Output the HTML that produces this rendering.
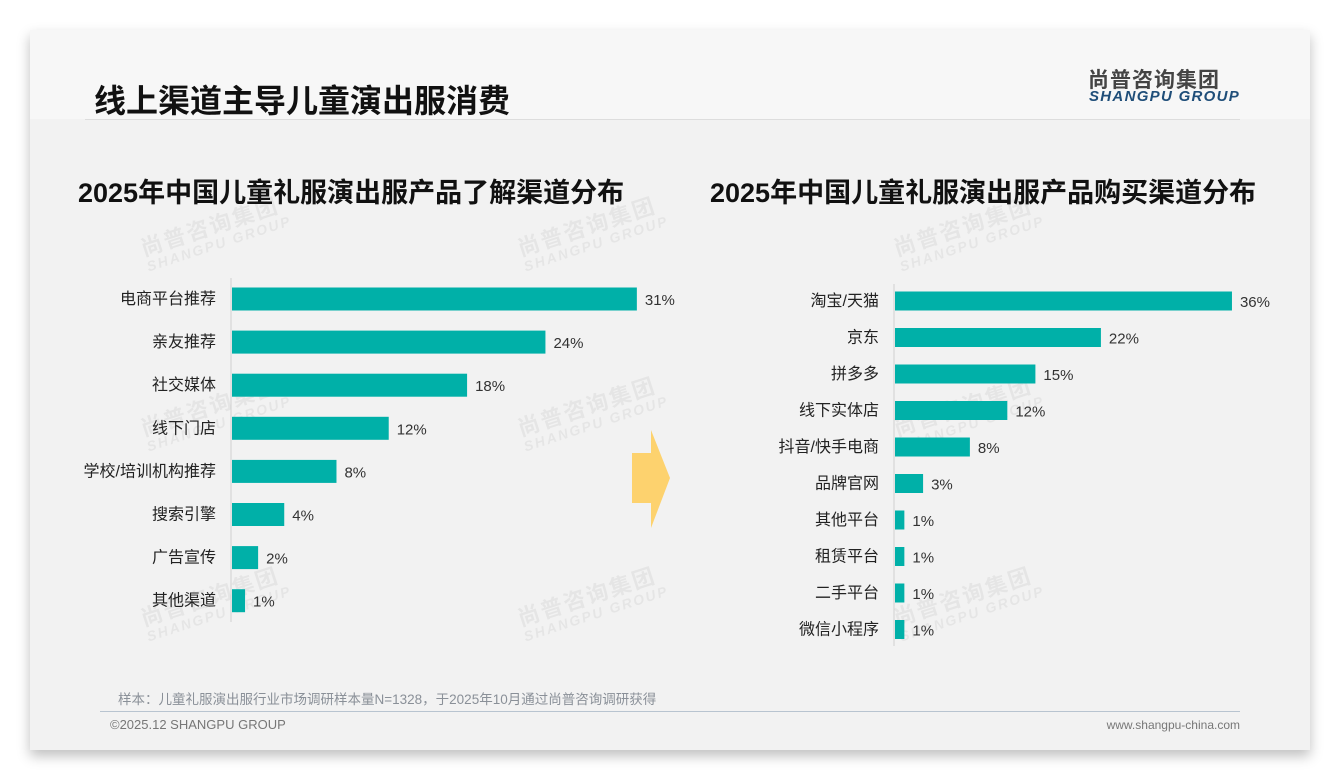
<!DOCTYPE html>
<html><head><meta charset="utf-8"><style>
body{margin:0;width:1340px;height:780px;background:#fff;position:relative;overflow:hidden;font-family:"Liberation Sans","Noto Sans CJK SC",sans-serif;}
.slide{position:absolute;left:30px;top:30px;width:1280px;height:720px;background:#f2f2f2;box-shadow:0 6px 12px rgba(0,0,0,.25);}
.hdr{position:absolute;left:0;top:0;width:1280px;height:89px;background:#f7f7f7;}
.t{position:absolute;white-space:nowrap;}
.wm{position:absolute;transform:rotate(-18deg);color:rgba(0,0,0,0.05);font-weight:bold;line-height:1;}
.wm .a{font-size:22px;letter-spacing:2px}
.wm .b{font-size:14px;font-style:italic;letter-spacing:2px}
</style></head><body>
<div class="slide">
<div class="hdr"></div>
<div class="wm" style="left:110px;top:185px"><div class="a">尚普咨询集团</div><div class="b">SHANGPU GROUP</div></div>
<div class="wm" style="left:487px;top:185px"><div class="a">尚普咨询集团</div><div class="b">SHANGPU GROUP</div></div>
<div class="wm" style="left:863px;top:185px"><div class="a">尚普咨询集团</div><div class="b">SHANGPU GROUP</div></div>
<div class="wm" style="left:110px;top:365px"><div class="a">尚普咨询集团</div><div class="b">SHANGPU GROUP</div></div>
<div class="wm" style="left:487px;top:365px"><div class="a">尚普咨询集团</div><div class="b">SHANGPU GROUP</div></div>
<div class="wm" style="left:863px;top:365px"><div class="a">尚普咨询集团</div><div class="b">SHANGPU GROUP</div></div>
<div class="wm" style="left:110px;top:555px"><div class="a">尚普咨询集团</div><div class="b">SHANGPU GROUP</div></div>
<div class="wm" style="left:487px;top:555px"><div class="a">尚普咨询集团</div><div class="b">SHANGPU GROUP</div></div>
<div class="wm" style="left:863px;top:555px"><div class="a">尚普咨询集团</div><div class="b">SHANGPU GROUP</div></div>
<div class="t" style="left:64px;top:46px;font-size:32px;font-weight:bold;color:#111;">线上渠道主导儿童演出服消费</div>
<div style="position:absolute;left:55px;top:89px;width:1155px;height:1px;background:#ddd"></div>
<div class="t" style="left:1058px;top:34px;font-size:21px;font-weight:bold;color:#444;letter-spacing:1px">尚普咨询集团</div>
<div class="t" style="left:1059px;top:58px;font-size:15px;font-weight:bold;font-style:italic;color:#1f4e79;letter-spacing:1.3px">SHANGPU GROUP</div>
<div class="t" style="left:48px;top:141px;font-size:27px;font-weight:bold;color:#111">2025年中国儿童礼服演出服产品了解渠道分布</div>
<div class="t" style="left:680px;top:141px;font-size:27px;font-weight:bold;color:#111">2025年中国儿童礼服演出服产品购买渠道分布</div>
<div class="t" style="left:88px;top:658px;font-size:13.5px;color:#8a9098">样本：儿童礼服演出服行业市场调研样本量N=1328，于2025年10月通过尚普咨询调研获得</div>
<div style="position:absolute;left:70px;top:681px;width:1140px;height:1px;background:#b8c4d0"></div>
<div class="t" style="left:80px;top:687px;font-size:13px;color:#777">©2025.12 SHANGPU GROUP</div>
<div class="t" style="right:70px;top:688px;font-size:12px;color:#777">www.shangpu-china.com</div>
</div>
<svg id="svg" width="1340" height="780" style="position:absolute;left:0;top:0">
<polygon points="632,453 651,453 651,430 670,478 651,528 651,503 632,503" fill="#fdd26e"/>
</svg>
<script>
const leftCats=["电商平台推荐","亲友推荐","社交媒体","线下门店","学校/培训机构推荐","搜索引擎","广告宣传","其他渠道"];
const leftVals=[31,24,18,12,8,4,2,1];
const rightCats=["淘宝/天猫","京东","拼多多","线下实体店","抖音/快手电商","品牌官网","其他平台","租赁平台","二手平台","微信小程序"];
const rightVals=[36,22,15,12,8,3,1,1,1,1];
const NS="http://www.w3.org/2000/svg";
const svg=document.getElementById('svg');
function mk(tag,attrs){const e=document.createElementNS(NS,tag);for(const k in attrs)e.setAttribute(k,attrs[k]);svg.appendChild(e);return e;}
function chart(cats,vals,x0,pxPer,y0,step,bh,axTop,axBot,prefix){
  const ax=mk('line',{x1:x0,x2:x0,y1:axTop,y2:axBot,stroke:'#d0d0d0','stroke-width':1});
  
  
  cats.forEach((c,i)=>{
    const cy=y0+i*step, w=vals[i]*pxPer;
    const r=mk('rect',{x:x0+1,y:cy-bh/2,width:w,height:bh,fill:'#00b0a8'});
    
    
    const l=mk('text',{x:x0-15,y:cy+5,'text-anchor':'end','font-size':16,fill:'#222'});l.textContent=c;
    
    
    const v=mk('text',{x:x0+w+9,y:cy+6,'font-size':15,fill:'#333'});v.textContent=vals[i]+'%';
    
    
  });
}
chart(leftCats,leftVals,231,13.06,299,43.1,23,278,622,'left');
chart(rightCats,rightVals,894,9.36,301,36.5,19,284,646,'right');
</script>
</body></html>
